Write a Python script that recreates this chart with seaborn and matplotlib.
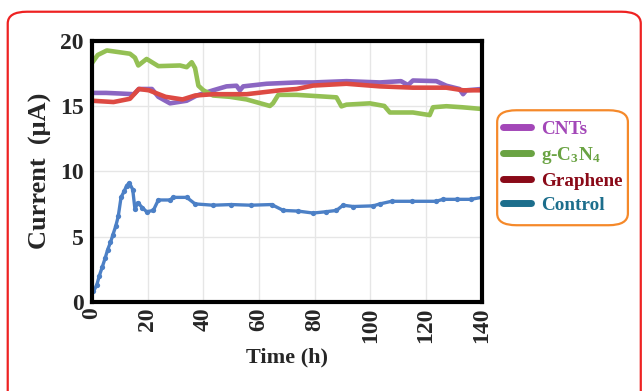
import numpy as np
import pandas as pd
import seaborn as sns
import matplotlib
matplotlib.use("Agg")
import matplotlib.pyplot as plt
from matplotlib.lines import Line2D
from matplotlib.patches import FancyBboxPatch

# ---- data ----
cnt_t = [0, 5, 10.3, 15, 16.8, 21.5, 23.8, 28, 34, 37.6, 43.5, 48.3, 51.9, 53.1, 54.3,
         62.7, 73.5, 79.4, 91.4, 103.4, 111, 113.5, 115.3, 123.7, 127.3, 132, 133.3, 134.5, 140]
cnt_i = [16.0, 16.0, 15.95, 15.9, 16.3, 16.3, 15.7, 15.2, 15.4, 15.8, 16.2, 16.5, 16.55, 16.2, 16.5,
         16.7, 16.8, 16.8, 16.9, 16.8, 16.9, 16.6, 16.95, 16.9, 16.55, 16.3, 15.9, 16.2, 16.3]

g_t = [0, 2, 5.3, 13.6, 15.4, 16.6, 19.6, 23.8, 31.6, 34, 35.8, 37, 38.2, 40, 43.5, 49.5,
       55.5, 63.9, 65, 66.9, 73.5, 87.8, 89.6, 91.4, 99.8, 105, 107, 115.3, 121.3, 122.5,
       127.3, 133, 140]
g_i = [18.3, 18.9, 19.25, 19.0, 18.7, 18.1, 18.6, 18.05, 18.1, 17.97, 18.35, 17.9, 16.55, 16.2,
       15.8, 15.7, 15.5, 15.0, 15.2, 15.85, 15.85, 15.66, 14.97, 15.1, 15.2, 15.0, 14.5, 14.5,
       14.3, 14.9, 14.98, 14.9, 14.77]

gr_t = [0, 7.7, 13.6, 16.8, 20.4, 26.4, 32.5, 37, 43.5, 55.5, 67.5, 73.5, 79.4, 91.4,
        103.4, 115.3, 127.3, 133.3, 140]
gr_i = [15.4, 15.3, 15.55, 16.3, 16.2, 15.7, 15.5, 15.8, 15.9, 15.9, 16.2, 16.3, 16.56, 16.7,
        16.5, 16.4, 16.4, 16.2, 16.2]

ctl_t = [0.5, 1.7, 2.6, 3.7, 4.7, 5.6, 6.6, 7.5, 8.5, 9.4, 10.4, 11.6, 12.4, 13.4, 14.6, 15.4,
         16.4, 18.1, 19.6, 22, 23.8, 28, 29.2, 34, 37, 43.5, 50, 57, 64.5, 68.7, 74, 79.4, 84,
         87.8, 90.2, 93.8, 101, 103.4, 107.6, 115, 123.7, 126, 131, 136, 140]
ctl_i = [0.8, 1.3, 2.0, 2.7, 3.35, 4.0, 4.55, 5.15, 5.8, 6.55, 8.0, 8.5, 8.9, 9.1, 8.6, 7.1,
         7.6, 7.2, 6.9, 7.0, 7.8, 7.8, 8.0, 8.0, 7.5, 7.4, 7.45, 7.4, 7.45, 7.0, 6.95, 6.8, 6.9,
         7.0, 7.4, 7.3, 7.35, 7.5, 7.7, 7.7, 7.7, 7.85, 7.85, 7.85, 8.0]

series_names = ["CNTs", "g-C$_3$N$_4$", "Graphene", "Control"]
line_colors = ["#8b66c2", "#94c054", "#dd4a43", "#4c80c6"]
legend_colors = ["#a347b8", "#6aa343", "#8a0a18", "#1c6e8c"]
x_ticks = [0, 20, 40, 60, 80, 100, 120, 140]
y_ticks = [0, 5, 10, 15, 20]

df = pd.concat([
    pd.DataFrame({"t": cnt_t, "i": cnt_i, "s": "CNTs"}),
    pd.DataFrame({"t": g_t, "i": g_i, "s": "g"}),
    pd.DataFrame({"t": gr_t, "i": gr_i, "s": "Graphene"}),
    pd.DataFrame({"t": ctl_t, "i": ctl_i, "s": "Control"}),
])

sns.set_theme(style="white")
plt.rcParams["font.family"] = ["Liberation Serif", "DejaVu Serif"]
plt.rcParams["mathtext.fontset"] = "custom"
plt.rcParams["mathtext.rm"] = "Liberation Serif:bold"
plt.rcParams["mathtext.it"] = "Liberation Serif:bold"
plt.rcParams["mathtext.bf"] = "Liberation Serif:bold"

fig = plt.figure(figsize=(6.44, 3.91), dpi=100)
ax = fig.add_axes([0.143, 0.228, 0.605, 0.668])

keys = ["CNTs", "g", "Graphene", "Control"]
for k, c in zip(keys[:3], line_colors[:3]):
    sns.lineplot(data=df[df.s == k], x="t", y="i", ax=ax, color=c, lw=3.3,
                 estimator=None, sort=False)
sns.lineplot(data=df[df.s == "Control"], x="t", y="i", ax=ax, color=line_colors[3], lw=2.4,
             marker="o", markersize=3.8, markeredgewidth=0, estimator=None, sort=False)

ax.set_xlim(0, 140)
ax.set_ylim(0, 20)
ax.set_xticks(x_ticks)
ax.set_yticks(y_ticks)
ax.grid(True, color="#e6e6e6", lw=1.0)
for sp in ax.spines.values():
    sp.set_linewidth(3.0)
    sp.set_color("black")
ax.tick_params(axis="x", labelsize=17, rotation=90, pad=4, length=0)
ax.tick_params(axis="y", labelsize=17, pad=6, length=0)
for lab in ax.get_xticklabels() + ax.get_yticklabels():
    lab.set_fontweight("bold")
ax.set_xlabel("Time (h)", fontsize=16, fontweight="bold", labelpad=3)
ax.set_ylabel("Current  (μA)", fontsize=19, fontweight="bold", labelpad=6)

handles = [Line2D([0], [0], color=c, lw=5) for c in legend_colors]
leg = fig.legend(handles, series_names, loc="center", bbox_to_anchor=(0.874, 0.572),
                 frameon=False, handlelength=1.45, handletextpad=0.55,
                 labelspacing=0.35, prop={"weight": "bold", "size": 13.8})
for txt, c in zip(leg.get_texts(), legend_colors):
    txt.set_color(c)

fig.patches.append(FancyBboxPatch((0.772, 0.424), 0.203, 0.294,
                                  boxstyle="round,pad=0,rounding_size=0.03",
                                  transform=fig.transFigure, fill=False,
                                  edgecolor="#f5892a", lw=1.6))
fig.patches.append(FancyBboxPatch((0.012, -0.05), 0.983, 1.02,
                                  boxstyle="round,pad=0,rounding_size=0.03",
                                  transform=fig.transFigure, fill=False,
                                  edgecolor="#ee2222", lw=1.6))

fig.savefig("out.png", dpi=100)
